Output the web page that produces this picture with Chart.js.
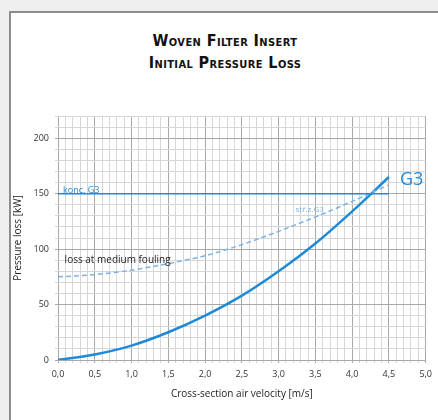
<!DOCTYPE html>
<html lang="en">
<head>
    <meta charset="UTF-8">
    <title>Woven Filter Insert - Initial Pressure Loss</title>
    <style>
        body {
            margin: 0;
            background: #efefef;
            width: 438px;
            height: 420px;
            overflow: hidden;
            position: relative;
        }

        .panel {
            position: absolute;
            left: 9px;
            top: 11px;
            width: 450px;
            height: 430px;
            background: #ffffff;
            border-left: 2px solid #8c8c8c;
            border-top: 2px solid #8c8c8c;
        }

        .title {
            position: absolute;
            left: 0;
            width: 450px;
            top: 30px;
            text-align: center;
            font-family: "DejaVu Sans Condensed", "DejaVu Sans", sans-serif;
            font-weight: bold;
            font-variant: small-caps;
            font-size: 16px;
            line-height: 22px;
            letter-spacing: 0.4px;
            color: #111;
        }

        canvas {
            position: absolute;
            left: 0;
            top: 0;
        }
    </style>
    <script src="https://cdn.jsdelivr.net/npm/chart.js"></script>
</head>
<body>

    <div class="panel"></div>
    <div class="title">Woven Filter Insert<br>Initial Pressure Loss</div>
    <canvas id="pressureChart" width="438" height="420"></canvas>

    <script>
        // Data
        const velocity = [0, 0.5, 1.0, 1.5, 2.0, 2.5, 3.0, 3.5, 4.0, 4.5];
        const initialLoss = [0, 5, 13, 25, 40, 58, 80, 105, 134, 165];
        const mediumLoss = [75, 77, 81, 87, 94, 104, 116, 129, 143, 158];
        const limitX = [0, 4.5];
        const limitY = [150, 150];

        const blue = '#1f8ad8';
        const lightBlue = '#7db3e2';

        function toPoints(xs, ys) {
            return xs.map((x, i) => ({ x: x, y: ys[i] }));
        }

        // Text labels on the plot
        const textLabels = {
            id: 'textLabels',
            afterDatasetsDraw(chart) {
                const ctx = chart.ctx;
                const xs = chart.scales.x;
                const ys = chart.scales.y;
                ctx.save();
                ctx.textBaseline = 'alphabetic';
                ctx.textAlign = 'left';

                ctx.fillStyle = blue;
                ctx.font = '9px "Open Sans"';
                ctx.fillText('konc. G3', xs.getPixelForValue(0) + 5, ys.getPixelForValue(150) - 1);

                ctx.fillStyle = lightBlue;
                ctx.font = '8px "Open Sans"';
                ctx.fillText('stř.z.G3', xs.getPixelForValue(3.23), ys.getPixelForValue(133));

                ctx.fillStyle = blue;
                ctx.font = '18px "Open Sans"';
                ctx.fillText('G3', xs.getPixelForValue(4.65), ys.getPixelForValue(158));

                ctx.fillStyle = '#222';
                ctx.font = '10px "Open Sans"';
                ctx.fillText('loss at medium fouling', xs.getPixelForValue(0.09), ys.getPixelForValue(87.5));
                ctx.restore();
            }
        };

        const ctx = document.getElementById('pressureChart').getContext('2d');
        const chart = new Chart(ctx, {
            type: 'scatter',
            data: {
                datasets: [
                    {
                        label: 'konc. G3',
                        data: toPoints(limitX, limitY),
                        showLine: true,
                        borderColor: blue,
                        borderWidth: 1.5,
                        pointRadius: 0
                    },
                    {
                        label: 'stř.z.G3',
                        data: toPoints(velocity, mediumLoss),
                        showLine: true,
                        borderColor: lightBlue,
                        borderWidth: 1.5,
                        borderDash: [5, 3],
                        cubicInterpolationMode: 'monotone',
                        pointRadius: 0
                    },
                    {
                        label: 'G3',
                        data: toPoints(velocity, initialLoss),
                        showLine: true,
                        borderColor: blue,
                        borderWidth: 2.5,
                        cubicInterpolationMode: 'monotone',
                        pointRadius: 0
                    }
                ]
            },
            options: {
                responsive: false,
                animation: false,
                devicePixelRatio: 1,
                layout: {
                    padding: { top: 116, right: 7, left: 0, bottom: 0 }
                },
                plugins: {
                    legend: { display: false },
                    tooltip: { enabled: false }
                },
                scales: {
                    x: {
                        type: 'linear',
                        min: 0,
                        max: 5,
                        afterFit: s => { s.height = 60; },
                        ticks: {
                            stepSize: 0.1,
                            autoSkip: false,
                            maxRotation: 0,
                            padding: 6,
                            color: '#333',
                            font: { family: '"Open Sans"', size: 9 },
                            callback: v => {
                                const t = Math.round(v * 10);
                                return t % 5 === 0 ? (t / 10).toFixed(1).replace('.', ',') : '';
                            }
                        },
                        grid: {
                            tickLength: 3,
                            color: c => (Math.round(c.tick.value * 10) % 5 === 0 ? '#a8a8a8' : '#d6d6d6')
                        },
                        border: { display: false },
                        title: {
                            display: true,
                            text: 'Cross-section air velocity [m/s]',
                            color: '#222',
                            font: { family: '"Open Sans"', size: 10 },
                            padding: { top: 0, bottom: 20 }
                        }
                    },
                    y: {
                        min: 0,
                        max: 220,
                        afterFit: s => { s.width = 58; },
                        ticks: {
                            stepSize: 10,
                            autoSkip: false,
                            padding: 6,
                            color: '#333',
                            font: { family: '"Open Sans"', size: 9 },
                            callback: v => (v % 50 === 0 ? String(v) : '')
                        },
                        grid: {
                            tickLength: 3,
                            color: c => (c.tick.value % 50 === 0 ? '#a8a8a8' : '#d6d6d6')
                        },
                        border: { display: false },
                        title: {
                            display: true,
                            text: 'Pressure loss [kW]',
                            color: '#222',
                            font: { family: '"Open Sans"', size: 10 },
                            padding: { top: 12, bottom: 0 }
                        }
                    }
                }
            },
            plugins: [textLabels]
        });
    </script>
</body>
</html>
